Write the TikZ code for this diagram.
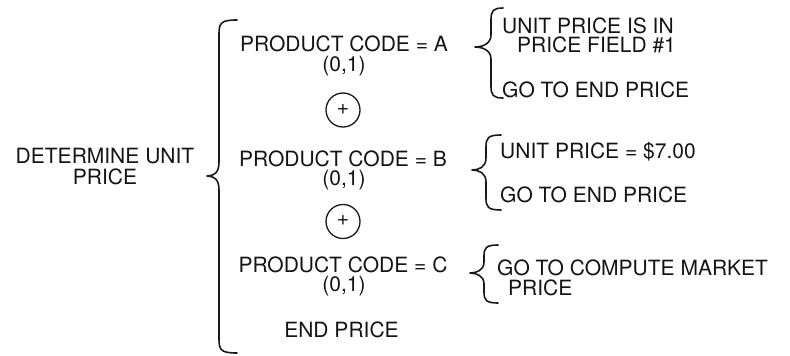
\documentclass[tikz,border=0pt]{standalone}
\usepackage{fontspec}
\setmainfont{TeX Gyre Heros}
\begin{document}
\begin{tikzpicture}[x=1pt,y=-1pt,
  txt/.style={inner sep=0pt,anchor=base,font=\fontsize{21}{21}\selectfont,text=black!92},
  ltxt/.style={txt,anchor=base west},
  orop/.style={circle,draw=black!90,line width=1.3pt,minimum size=34pt,inner sep=0pt,font=\fontsize{21}{21}\selectfont,text=black!90},
  bracestyle/.style={draw=black!90,line width=1.6pt,line cap=round,line join=round}]
\useasboundingbox (0,0) rectangle (790,356);
% brace macro: end x, top y, vertical x, tip x, tip y, bottom y, end radius
\newcommand{\mybrace}[7]{%
  \draw[bracestyle] (#1,#2) .. controls ({#3+2},#2) and (#3,{#2+3}) .. (#3,{#2+#7})
    -- (#3,{#5-#7}) .. controls (#3,{#5-3}) and ({#4+7},#5) .. (#4,#5)
    .. controls ({#4+7},#5) and (#3,{#5+3}) .. (#3,{#5+#7})
    -- (#3,{#6-#7}) .. controls (#3,{#6-3}) and ({#3+2},#6) .. (#1,#6);}
% left part
\node[txt] (det1) at (105,163) {DETERMINE UNIT};
\node[txt] (det2) at (105,184) {PRICE};
\mybrace{237}{20}{219}{207}{176}{353}{14}
% middle column
\node[txt] (pa) at (344,51) {PRODUCT CODE = A};
\node[txt] (pa2) at (344,71) {(0,1)};
\node[orop] (or1) at (343,110) {\raisebox{1pt}{+}};
\node[txt] (pb) at (343,166) {PRODUCT CODE = B};
\node[txt] (pb2) at (344,185) {(0,1)};
\node[orop] (or2) at (343,221.5) {\raisebox{1pt}{+}};
\node[txt] (pc) at (343,272) {PRODUCT CODE = C};
\node[txt] (pc2) at (344,291) {(0,1)};
\node[txt] (endp) at (341.5,337) {END PRICE};
% right column A
\mybrace{503}{8}{491}{475}{47}{98}{12}
\node[ltxt] (a1) at (502,33) {UNIT PRICE IS IN};
\node[ltxt] (a2) at (517,52) {PRICE FIELD \#1};
\node[ltxt] (a3) at (502,97) {GO TO END PRICE};
% right column B
\mybrace{501}{135}{486}{472}{170}{210}{12}
\node[ltxt] (b1) at (500,158) {UNIT PRICE = \$7.00};
\node[ltxt] (b2) at (500,202) {GO TO END PRICE};
% right column C
\mybrace{498}{245}{484}{470}{273}{303}{11}
\node[ltxt] (c1) at (497,275) {GO TO COMPUTE MARKET};
\node[ltxt] (c2) at (508,295) {PRICE};
\end{tikzpicture}
\end{document}
